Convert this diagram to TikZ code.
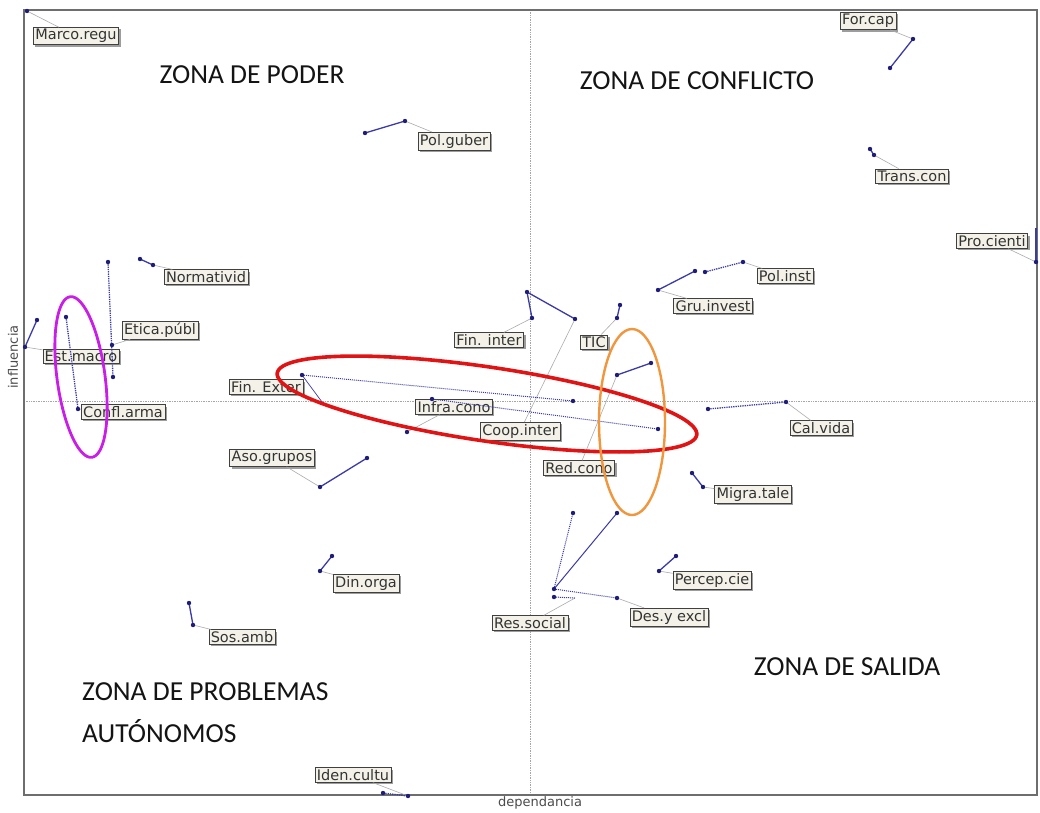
\documentclass[tikz,border=0pt]{standalone}
\usepackage{fontspec}
\setmainfont{DejaVu Sans}
\newfontfamily\zonef{Carlito}
\newfontfamily\lblf{DejaVu Sans}
\usetikzlibrary{shadows}
\definecolor{linkblue}{HTML}{3A3AA8}
\definecolor{dotblue}{HTML}{1E1E7A}
\definecolor{labfill}{HTML}{F4F2E8}
\definecolor{framegray}{HTML}{6E6E6E}
\definecolor{zred}{HTML}{E01414}
\definecolor{zpurple}{HTML}{C81EE6}
\definecolor{zorange}{HTML}{F0963C}
\tikzset{
  frame/.style={draw=framegray,line width=1.6pt},
  axis/.style={draw=gray!70,densely dotted,line width=0.7pt},
  lbl/.style={draw=black!75,fill=labfill,text=black!80,font=\lblf\fontsize{14.5}{14.5}\selectfont,
    inner xsep=2pt,inner ysep=1.8pt,
    drop shadow={shadow xshift=2pt,shadow yshift=-2pt,fill=black!45,opacity=0.85}},
  zone/.style={font=\zonef\fontsize{27.5}{27.5}\selectfont,text=black!92,inner sep=0pt},
  axlbl/.style={font=\lblf\fontsize{13}{13}\selectfont,text=black!70,inner sep=0pt},
  link/.style={draw=linkblue,line width=1.3pt},
  dlink/.style={draw=linkblue,densely dotted,line width=1.3pt},
  lead/.style={draw=gray!65,line width=0.6pt},
}
\begin{document}
\begin{tikzpicture}[x=1pt,y=-1pt]
\useasboundingbox (0,0) rectangle (1040,812);
\fill[white] (0,0) rectangle (1040,812);

% axes
\coordinate (vt) at (530,10); \coordinate (vb) at (530,795);
\coordinate (hl) at (24,401); \coordinate (hr) at (1037,401);
\draw[axis] (vt) -- (vb);
\draw[axis] (hl) -- (hr);
\draw[frame] (24,10) rectangle (1037,795);
\node[axlbl,rotate=90] (ylab) at (13,357) {influencia};
\node[axlbl] (xlab) at (540,803) {dependancia};

% zone titles
\node[zone] (z1) at (252,75) {ZONA DE PODER};
\node[zone] (z2) at (697,81) {ZONA DE CONFLICTO};
\node[zone] (z3) at (847,667) {ZONA DE SALIDA};
\node[zone,anchor=west] (z4) at (82,692) {ZONA DE PROBLEMAS};
\node[zone,anchor=west] (z5) at (82,731) {AUTÓNOMOS};

% points
\coordinate (pMarco) at (27,11);
\coordinate (pPolA) at (365,133); \coordinate (pPolB) at (405,121);
\coordinate (pForA) at (913,39); \coordinate (pForB) at (890,68);
\coordinate (pTransA) at (870,149); \coordinate (pTransB) at (874,155);
\coordinate (pProA) at (1036,228); \coordinate (pProB) at (1036,262);
\coordinate (pGruA) at (658,290); \coordinate (pGruB) at (695,271);
\coordinate (pPiA) at (705,272); \coordinate (pPiB) at (743,262);
\coordinate (pNormA) at (140,259); \coordinate (pNormB) at (153,265);
\coordinate (pEtA) at (108,262); \coordinate (pEtB) at (113,377); \coordinate (pEtC) at (112,345);
\coordinate (pEstA) at (25,347); \coordinate (pEstB) at (37,320);
\coordinate (pCfA) at (66,317); \coordinate (pCfB) at (78,409);
\coordinate (pFeA) at (302,375); \coordinate (pFeB) at (573,401); \coordinate (pFeC) at (322,402);
\coordinate (pInA) at (432,399); \coordinate (pInB) at (658,429); \coordinate (pInC) at (407,432);
\coordinate (pFiA) at (532,318); \coordinate (pFiB) at (527,292); \coordinate (pFiC) at (575,319);
\coordinate (pTicA) at (620,305); \coordinate (pTicB) at (617,318);
\coordinate (pRedA) at (617,375); \coordinate (pRedB) at (651,363);
\coordinate (pAsoA) at (320,487); \coordinate (pAsoB) at (367,458);
\coordinate (pCalA) at (708,409); \coordinate (pCalB) at (786,402);
\coordinate (pMigA) at (692,473); \coordinate (pMigB) at (703,487);
\coordinate (pPerA) at (659,571); \coordinate (pPerB) at (676,556);
\coordinate (pResA) at (554,589); \coordinate (pResB) at (573,513); \coordinate (pResC) at (617,513);
\coordinate (pResD) at (554,597); \coordinate (pResE) at (575,598);
\coordinate (pDesA) at (617,598);
\coordinate (pDinA) at (320,571); \coordinate (pDinB) at (332,556);
\coordinate (pSosA) at (189,603); \coordinate (pSosB) at (193,625);
\coordinate (pIdA) at (383,793); \coordinate (pIdB) at (408,796);

% labels
\node[lbl] (lMarco) at (76,36) {Marco.regu};
\node[lbl] (lPol) at (454,141) {Pol.guber};
\node[lbl] (lFor) at (868,21) {For.cap};
\node[lbl] (lTrans) at (912,176) {Trans.con};
\node[lbl] (lPro) at (992,241) {Pro.cienti};
\node[lbl] (lPi) at (785,276) {Pol.inst};
\node[lbl] (lGru) at (713,306) {Gru.invest};
\node[lbl] (lNorm) at (206,277) {Normativid};
\node[lbl] (lEt) at (160,330) {Etica.públ};
\node[lbl] (lEst) at (81,356) {Est.macro};
\node[lbl] (lCf) at (123,412) {Confl.arma};
\node[lbl] (lFe) at (266,387) {Fin. Exter};
\node[lbl] (lFi) at (489,340) {Fin. inter};
\node[lbl] (lTic) at (594,342) {TIC};
\node[lbl] (lIn) at (454,407) {Infra.cono};
\node[lbl] (lCo) at (520,431) {Coop.inter};
\node[lbl] (lRed) at (579,468) {Red.cono};
\node[lbl] (lAso) at (272,458) {Aso.grupos};
\node[lbl] (lCal) at (821,428) {Cal.vida};
\node[lbl] (lMig) at (753,494) {Migra.tale};
\node[lbl] (lPer) at (712,580) {Percep.cie};
\node[lbl] (lRes) at (530,623) {Res.social};
\node[lbl] (lDes) at (669,617) {Des.y excl};
\node[lbl] (lDin) at (366,583) {Din.orga};
\node[lbl] (lSos) at (242,637) {Sos.amb};
\node[lbl] (lId) at (353,775) {Iden.cultu};

% leaders
\draw[lead] (pMarco) -- (lMarco);
\draw[lead] (pPolB) -- (lPol);
\draw[lead] (pForA) -- (lFor);
\draw[lead] (pTransB) -- (lTrans);
\draw[lead] (pProB) -- (lPro);
\draw[lead] (pPiB) -- (lPi);
\draw[lead] (pGruA) -- (lGru);
\draw[lead] (pNormB) -- (lNorm);
\draw[lead] (pEtC) -- (lEt);
\draw[lead] (pEstA) -- (lEst);
\draw[lead] (pCfB) -- (lCf);
\draw[lead] (pFiA) -- (lFi);
\draw[lead] (pFiC) -- (lCo);
\draw[lead] (pTicB) -- (lTic);
\draw[lead] (pRedA) -- (lRed);
\draw[lead] (pInC) -- (lIn);
\draw[lead] (pAsoA) -- (lAso);
\draw[lead] (pCalB) -- (lCal);
\draw[lead] (pMigB) -- (lMig);
\draw[lead] (pPerA) -- (lPer);
\draw[lead] (pResE) -- (lRes);
\draw[lead] (pDesA) -- (lDes);
\draw[lead] (pDinA) -- (lDin);
\draw[lead] (pSosB) -- (lSos);
\draw[lead] (pIdB) -- (lId);

% links
\draw[link] (pPolA) -- (pPolB);
\draw[link] (pForA) -- (pForB);
\draw[link] (pTransA) -- (pTransB);
\draw[link] (pProA) -- (pProB);
\draw[link] (pGruA) -- (pGruB);
\draw[dlink] (pPiA) -- (pPiB);
\draw[link] (pNormA) -- (pNormB);
\draw[dlink] (pEtA) -- (pEtB);
\draw[link] (pEstA) -- (pEstB);
\draw[dlink] (pCfA) -- (pCfB);
\draw[dlink,line width=1pt] (pFeA) -- (pFeB);
\draw[link,line width=0.7pt] (pFeA) -- (pFeC);
\draw[dlink,line width=1pt] (pInA) -- (pInB);
\draw[link] (pFiA) -- (pFiB) -- (pFiC);
\draw[link] (pTicA) -- (pTicB);
\draw[link] (pRedA) -- (pRedB);
\draw[link] (pAsoA) -- (pAsoB);
\draw[dlink] (pCalA) -- (pCalB);
\draw[link] (pMigA) -- (pMigB);
\draw[link] (pPerA) -- (pPerB);
\draw[dlink,line width=1pt] (pResA) -- (pResB);
\draw[link,line width=1pt] (pResA) -- (pResC);
\draw[dlink,line width=1pt] (pResA) -- (pDesA);
\draw[dlink,line width=1pt] (pResD) -- (pResE);
\draw[link] (pDinA) -- (pDinB);
\draw[link] (pSosA) -- (pSosB);
\draw[dlink] (pIdA) -- (pIdB);

% dots
\foreach \p in {pMarco,pPolA,pPolB,pForA,pForB,pTransA,pTransB,pProB,pGruA,pGruB,pPiA,pPiB,
  pNormA,pNormB,pEtA,pEtB,pEtC,pEstA,pEstB,pCfA,pCfB,pFeA,pFeB,pInA,pInB,pInC,pFiA,pFiB,pFiC,
  pTicA,pTicB,pRedA,pRedB,pAsoA,pAsoB,pCalA,pCalB,pMigA,pMigB,pPerA,pPerB,pResA,pResB,pResC,
  pResD,pDesA,pDinA,pDinB,pSosA,pSosB,pIdA,pIdB}
  \fill[dotblue] (\p) circle[radius=2.2];

% highlight ellipses
\draw[zred,line width=3.6pt] plot[domain=0:357,samples=120,smooth cycle]
  ({487 + 212*cos(\x)*cos(8.4) - 37*sin(\x)*sin(8.4)}, {404 + 212*cos(\x)*sin(8.4) + 37*sin(\x)*cos(8.4)});
\draw[zpurple,line width=2.8pt] plot[domain=0:357,samples=120,smooth cycle]
  ({81 + 81*cos(\x)*cos(82.3) - 24*sin(\x)*sin(82.3)}, {377 + 81*cos(\x)*sin(82.3) + 24*sin(\x)*cos(82.3)});
\draw[zorange,line width=2.4pt] (632,422) ellipse [x radius=33, y radius=93];
\end{tikzpicture}
\end{document}
